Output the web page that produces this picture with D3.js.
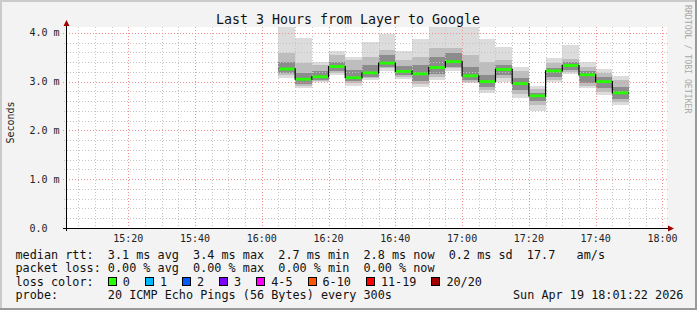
<!DOCTYPE html>
<html>
<head>
<meta charset="utf-8">
<script src="https://cdn.jsdelivr.net/npm/d3@7"></script>
<style>
  body { margin: 0; background: #f3f3f3; }
  text { font-family: "DejaVu Sans Mono", monospace; }
</style>
</head>
<body>
<div id="vis-container"></div>
<script>
// 5 minute blocks, start time of each block
blockStarts = ["16:05","16:10","16:15","16:20","16:25","16:30","16:35","16:40","16:45","16:50","16:55",
               "17:00","17:05","17:10","17:15","17:20","17:25","17:30","17:35","17:40","17:45"]
// values in ms
medianRtt = [3.26,3.05,3.10,3.31,3.08,3.18,3.38,3.21,3.16,3.29,3.41,3.12,3.00,3.25,2.96,2.71,3.22,3.33,3.14,3.00,2.77]
minRtt    = [3.08,2.87,3.00,3.14,2.92,3.04,3.21,3.06,2.89,3.04,3.22,2.97,2.76,3.00,2.66,2.40,3.00,3.15,2.87,2.73,2.53]
p10Rtt    = [3.14,2.91,3.02,3.18,2.97,3.07,3.27,3.10,2.96,3.09,3.27,3.00,2.82,3.07,2.74,2.52,3.04,3.19,2.92,2.79,2.58]
p25Rtt    = [3.18,2.95,3.04,3.22,3.01,3.10,3.31,3.14,3.02,3.15,3.31,3.04,2.89,3.14,2.82,2.60,3.10,3.24,2.98,2.86,2.64]
p75Rtt    = [3.41,3.17,3.21,3.41,3.24,3.34,3.55,3.32,3.34,3.51,3.58,3.30,3.14,3.34,3.08,2.77,3.28,3.40,3.22,3.09,2.90]
p90Rtt    = [3.59,3.38,3.34,3.55,3.45,3.51,3.65,3.45,3.51,3.69,3.69,3.55,3.41,3.45,3.21,2.84,3.38,3.46,3.31,3.17,3.04]
maxRtt    = [4.20,3.90,3.41,3.62,3.51,3.82,3.97,3.63,3.88,4.20,4.20,4.20,3.88,3.72,3.31,2.91,3.48,3.75,3.40,3.26,3.12]

yTickValues = [0,1,2,3,4]
yTickLabels = ["0.0","1.0 m","2.0 m","3.0 m","4.0 m"]

rttStats = ["3.1 ms avg","3.4 ms max","2.7 ms min","2.8 ms now","0.2 ms sd","17.7   am/s"]
lossStats = ["0.00 % avg","0.00 % max","0.00 % min","0.00 % now"]
lossLabels = ["0","1","2","3","4-5","6-10","11-19","20/20"]
lossColors = ["#26ff00","#00b8ff","#0059ff","#7e00ff","#ff00ff","#ff5500","#ff0000","#a10000"]

chart = {
  "width": 697, "height": 310,
  "plot": {"left": 66, "right": 667, "top": 27, "bottom": 228},
  "charW": 7.1
}

function at(hm){
  let p = hm.split(":");
  return new Date(2026, 3, 19, +p[0], +p[1], p[2] ? +p[2] : 0);
}

tStart = at("15:01:22")
tEnd = at("18:01:22")

x = d3.scaleTime().domain([tStart, tEnd]).range([chart.plot.left, chart.plot.right])
y = d3.scaleLinear().domain([0, 4.12]).range([chart.plot.bottom, chart.plot.top])

svg = d3.select("#vis-container").append("svg").attr("width", chart.width).attr("height", chart.height)

// canvas + frame
svg.append("rect").attr("width", chart.width).attr("height", chart.height).attr("fill", "#f3f3f3");
svg.append("rect").attr("x",0).attr("y",0).attr("width",chart.width).attr("height",2).attr("fill","#cbcbcb");
svg.append("rect").attr("x",0).attr("y",0).attr("width",2).attr("height",chart.height).attr("fill","#cbcbcb");
svg.append("rect").attr("x",0).attr("y",chart.height-2).attr("width",chart.width).attr("height",2).attr("fill","#999");
svg.append("rect").attr("x",chart.width-2).attr("y",0).attr("width",2).attr("height",chart.height).attr("fill","#999");

svg.append("clipPath").attr("id","plot-clip").append("rect")
  .attr("x", chart.plot.left).attr("y", chart.plot.top)
  .attr("width", chart.plot.right - chart.plot.left).attr("height", chart.plot.bottom - chart.plot.top);

svg.append("rect")
  .attr("x", chart.plot.left).attr("y", chart.plot.top)
  .attr("width", chart.plot.right - chart.plot.left).attr("height", chart.plot.bottom - chart.plot.top)
  .attr("fill", "#fff");

// smoke
blocks = blockStarts.map((s,i) => ({
  "start": at(s), "end": d3.timeMinute.offset(at(s), 5),
  "min": minRtt[i], "p10": p10Rtt[i], "p25": p25Rtt[i], "med": medianRtt[i],
  "p75": p75Rtt[i], "p90": p90Rtt[i], "max": maxRtt[i]
}))

layers = [["min","max","#dcdcdc"],["p10","p90","#bdbdbd"],["p25","p75","#8c8c8c"]]
smokeG = svg.append("g").attr("clip-path","url(#plot-clip)").attr("shape-rendering","crispEdges")
layers.forEach(function(l){
  smokeG.selectAll(".smoke-" + l[0])
    .data(blocks)
    .enter()
    .append("rect")
    .attr("class","smoke-" + l[0])
    .attr("x", d => x(d.start))
    .attr("width", d => x(d.end) - x(d.start))
    .attr("y", d => y(d[l[1]]))
    .attr("height", d => y(d[l[0]]) - y(d[l[1]]))
    .attr("fill", l[2]);
});

// grid
gridG = svg.append("g").attr("shape-rendering","crispEdges")
minorTimes = d3.timeMinute.every(5).range(tStart, tEnd).filter(t => t.getMinutes() % 20 != 0)
majorTimes = d3.timeMinute.every(20).range(tStart, tEnd)
minorY = d3.range(1, 21).map(i => i * 0.2).filter(v => Math.abs(v - Math.round(v)) > 0.01)
majorY = yTickValues.filter(v => v > 0)

gridG.selectAll(".vminor").data(minorTimes).enter().append("line")
  .attr("x1", d => Math.round(x(d)) + 0.5).attr("x2", d => Math.round(x(d)) + 0.5)
  .attr("y1", chart.plot.top).attr("y2", chart.plot.bottom + 2)
  .attr("stroke","#c4c4c4").attr("stroke-dasharray","1,2");
gridG.selectAll(".hminor").data(minorY).enter().append("line")
  .attr("x1", chart.plot.left - 2).attr("x2", chart.plot.right + 1)
  .attr("y1", d => Math.round(y(d)) + 0.5).attr("y2", d => Math.round(y(d)) + 0.5)
  .attr("stroke","#c4c4c4").attr("stroke-dasharray","1,2");
gridG.selectAll(".vmajor").data(majorTimes).enter().append("line")
  .attr("x1", d => Math.round(x(d)) + 0.5).attr("x2", d => Math.round(x(d)) + 0.5)
  .attr("y1", chart.plot.top).attr("y2", chart.plot.bottom + 3)
  .attr("stroke","#f09090").attr("stroke-dasharray","1,2");
gridG.selectAll(".hmajor").data(majorY).enter().append("line")
  .attr("x1", chart.plot.left - 3).attr("x2", chart.plot.right + 1)
  .attr("y1", d => Math.round(y(d)) + 0.5).attr("y2", d => Math.round(y(d)) + 0.5)
  .attr("stroke","#f09090").attr("stroke-dasharray","1,2");

// median: black step line with loss-colored segments
stepPts = blocks.map(d => [x(d.start), y(d.med)])
stepPts.push([x(blocks[blocks.length-1].end), y(blocks[blocks.length-1].med)])
svg.append("path")
  .attr("d", d3.line().curve(d3.curveStepAfter)(stepPts))
  .attr("fill","none").attr("stroke","#000").attr("stroke-width",1.2);
svg.selectAll(".median-seg").data(blocks).enter().append("line")
  .attr("class","median-seg")
  .attr("x1", d => x(d.start) + 0.6).attr("x2", d => x(d.end) - 0.6)
  .attr("y1", d => y(d.med)).attr("y2", d => y(d.med))
  .attr("stroke", lossColors[0]).attr("stroke-width", 2.8);

// axes
axisG = svg.append("g").attr("shape-rendering","crispEdges")
axisG.append("line").attr("x1", chart.plot.left - 3).attr("x2", chart.plot.right + 2)
  .attr("y1", chart.plot.bottom + 0.5).attr("y2", chart.plot.bottom + 0.5).attr("stroke","#000");
axisG.append("line").attr("x1", chart.plot.left + 0.5).attr("x2", chart.plot.left + 0.5)
  .attr("y1", chart.plot.bottom + 3).attr("y2", chart.plot.top - 1).attr("stroke","#000");
svg.append("path")
  .attr("d", d3.line()([[chart.plot.right + 1, chart.plot.bottom - 2.5],[chart.plot.right + 7, chart.plot.bottom + 0.5],[chart.plot.right + 1, chart.plot.bottom + 3.5]]) + "Z")
  .attr("fill","#a00000");
svg.append("path")
  .attr("d", d3.line()([[chart.plot.left - 2.5, chart.plot.top - 1],[chart.plot.left + 0.5, chart.plot.top - 7],[chart.plot.left + 3.5, chart.plot.top - 1]]) + "Z")
  .attr("fill","#a00000");

// tick labels
svg.selectAll(".ylabel").data(yTickValues).enter().append("text")
  .attr("class","ylabel")
  .attr("x", 29.5).attr("y", d => y(d) + 3.5)
  .attr("font-size", "10px").attr("fill","#222")
  .text((d,i) => yTickLabels[i]);
svg.selectAll(".xlabel").data(majorTimes).enter().append("text")
  .attr("class","xlabel")
  .attr("x", d => x(d)).attr("y", 242)
  .attr("text-anchor","middle").attr("font-size","10px").attr("fill","#222")
  .text(d => d3.timeFormat("%H:%M")(d));

// titles
svg.append("text").attr("x", 348).attr("y", 23.5).attr("text-anchor","middle")
  .attr("font-size","13.3px").attr("fill","#111")
  .text("Last 3 Hours from Layer to Google");
svg.append("text").attr("transform","translate(14,122.5) rotate(-90)").attr("text-anchor","middle")
  .attr("font-size","10px").attr("fill","#222").text("Seconds");
svg.append("text").attr("transform","translate(684.5,5) rotate(90)")
  .attr("font-size","8.2px").attr("fill","#a8a8a8").text("RRDTOOL / TOBI OETIKER");

// legend
legendX = 15.5
function legendLine(txt, yy, xx){
  return svg.append("text").attr("x", xx == null ? legendX : xx).attr("y", yy)
    .attr("font-size","11.8px").attr("fill","#111").style("white-space","pre").text(txt);
}
legendLine("median rtt:  " + rttStats.join("  "), 258.5)
legendLine("packet loss: " + lossStats.join("  "), 272)
legendLine("loss color:", 285.7)
legendLine("probe:       20 ICMP Echo Pings (56 Bytes) every 300s", 299.3)
legendLine("Sun Apr 19 18:01:22 2026", 299.3, 513)

let bx = legendX + 13 * chart.charW
lossLabels.forEach(function(lbl, i){
  svg.append("rect").attr("x", Math.round(bx) + 0.5).attr("y", 277.5).attr("width", 8).attr("height", 8)
    .attr("fill", lossColors[i]).attr("stroke","#000").attr("stroke-width",1);
  legendLine(lbl, 285.7, bx + 15);
  bx += 15 + lbl.length * chart.charW + 15;
});
</script>
</body>
</html>
